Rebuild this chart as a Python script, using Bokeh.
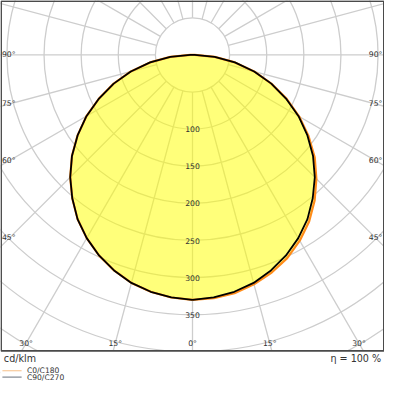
import numpy as np
from bokeh.plotting import figure
from bokeh.core.properties import value
from bokeh.embed import file_html
from bokeh.resources import INLINE

# ---------------- data (cd/klm) ----------------
gamma = [0, 5, 10, 15, 20, 25, 30, 35, 40, 45, 50, 55, 60, 65, 70, 75, 80, 85, 90]
c0 = [330, 329, 326, 320, 312, 302, 289, 274, 256, 236, 215, 191, 166, 140, 113, 86, 58, 30, 3]
c180 = [330, 328, 324, 318, 309, 298, 285, 270, 252, 233, 212, 189, 165, 139, 113, 86, 58, 30, 3]
c90 = [330, 328, 324, 318, 309, 298, 285, 270, 252, 233, 212, 189, 165, 139, 113, 86, 58, 30, 3]
c270 = [330, 328, 324, 318, 309, 298, 285, 270, 252, 233, 212, 189, 165, 139, 113, 86, 58, 30, 3]

ring_values = [50, 100, 150, 200, 250, 300, 350, 400, 450, 500, 550]
ring_labels = ["100", "150", "200", "250", "300", "350"]
side_angles = [90, 75, 60, 45]
bottom_angles = [30, 15, 0]
series_names = ["C0/C180", "C90/C270"]
unit_label = "cd/klm"
eta_label = "η = 100 %"

# ---------------- layout ----------------
SC = 0.7732          # reference px per cd/klm
OY = 56.7            # reference px of origin (y)
W = 384
FONT = value("DejaVu Sans")


def X(px):
    return (px - 200.0) / SC


def Y(py):
    return (OY - py) / SC


p = figure(width=W, height=W, output_backend="svg", toolbar_location=None,
           x_range=(X(0), X(400)), y_range=(Y(400), Y(0)),
           min_border=0, min_border_left=0, min_border_right=0,
           min_border_top=0, min_border_bottom=0)
p.axis.visible = False
p.grid.visible = False
p.outline_line_color = None
p.background_fill_color = "white"
p.border_fill_color = "white"

GRID = "#cdcdcd"
# grid circles
p.circle(x=[0] * len(ring_values), y=[0] * len(ring_values), radius=ring_values,
         fill_color=None, line_color=GRID, line_width=1.3)
# radial lines every 15 degrees
ang = np.radians(np.arange(0, 360, 15))
r0, r1 = ring_values[0], 900
p.segment(x0=r0 * np.sin(ang), y0=-r0 * np.cos(ang), x1=r1 * np.sin(ang), y1=-r1 * np.cos(ang),
          line_color=GRID, line_width=1.3)


def polygon(right, left):
    g = np.radians(gamma)
    xr = np.array(right) * np.sin(g)
    yr = -np.array(right) * np.cos(g)
    xl = -np.array(left) * np.sin(g)
    yl = -np.array(left) * np.cos(g)
    xs = np.concatenate([xr, xl[::-1]])
    ys = np.concatenate([yr, yl[::-1]])
    return xs, ys


xa, ya = polygon(c0, c180)
xb, yb = polygon(c90, c270)
p.patch(xa, ya, fill_color="#ffff00", fill_alpha=0.52, line_color=None)
p.patch(np.append(xa, xa[0]), np.append(ya, ya[0]), fill_color=None, line_color="#ff8c1a", line_width=2.2)
p.line(np.append(xb, xb[0]), np.append(yb, yb[0]), line_color="black", line_width=1.8)

# white area under the frame
p.quad(left=[X(-10)], right=[X(410)], top=[Y(365)], bottom=[Y(410)],
       fill_color="white", line_color=None)
# frame
p.quad(left=[X(0.7)], right=[X(399.3)], top=[Y(0.7)], bottom=[Y(365)],
       fill_color=None, line_color="#4a4a4a", line_width=1.6)

TXT = "#333333"
FS = "7.7px"
# radius labels
p.text(x=[0] * len(ring_labels), y=[-float(t) for t in ring_labels], text=ring_labels,
       text_font=FONT, text_font_size=FS, text_align="center", text_baseline="middle",
       text_color=TXT)

# angle labels on sides
ys_side = [Y(OY + (190.0 / np.tan(np.radians(a)) if a != 90 else 0.0)) for a in side_angles]
lab_side = [f"{a}°" for a in side_angles]
p.text(x=[X(1.5)] * len(side_angles), y=ys_side, text=lab_side, text_font=FONT,
       text_font_size=FS, text_align="left", text_baseline="middle", text_color=TXT)
p.text(x=[X(397.8)] * len(side_angles), y=ys_side, text=lab_side, text_font=FONT,
       text_font_size=FS, text_align="right", text_baseline="middle", text_color=TXT)
# angle labels at bottom
dy_b = 357 - OY
xs_b = [X(200 - dy_b * np.tan(np.radians(a))) for a in bottom_angles] + \
       [X(200 + dy_b * np.tan(np.radians(a))) for a in bottom_angles[:-1][::-1]]
lab_b = [f"{a}°" for a in bottom_angles] + [f"{a}°" for a in bottom_angles[:-1][::-1]]
p.text(x=xs_b, y=[Y(357)] * len(xs_b), text=lab_b, text_font=FONT, text_font_size=FS,
       text_align="center", text_baseline="middle", text_color=TXT)

# footer
p.text(x=[X(3.5)], y=[Y(372.5)], text=[unit_label], text_font=FONT, text_font_size="9.6px",
       text_align="left", text_baseline="middle", text_color=TXT)
p.text(x=[X(396.5)], y=[Y(372.5)], text=[eta_label], text_font=FONT, text_font_size="9.6px",
       text_align="right", text_baseline="middle", text_color=TXT)

# legend
leg_y = [Y(385.7), Y(392.3)]
p.segment(x0=[X(2)] * 2, y0=leg_y, x1=[X(22)] * 2, y1=leg_y,
          line_color=["#f5b97a", "#56606c"], line_width=0.9)
p.text(x=[X(27.5)] * 2, y=leg_y, text=series_names, text_font=FONT, text_font_size="7.6px",
       text_align="left", text_baseline="middle", text_color=TXT)

open("out.html", "w").write(file_html(p, INLINE))
